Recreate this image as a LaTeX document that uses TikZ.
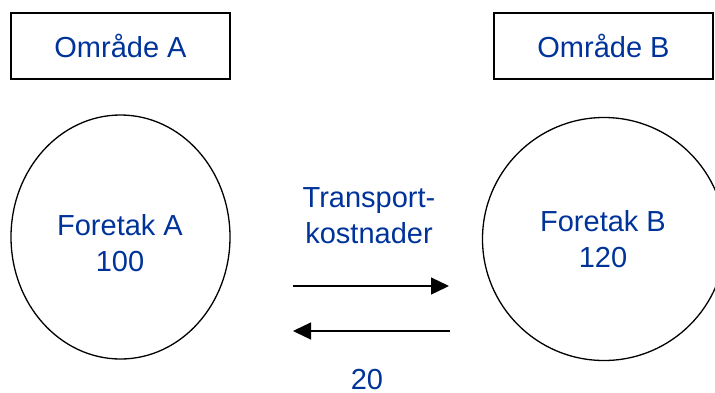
\documentclass[tikz,border=0pt]{standalone}
\usepackage{fontspec}
\setmainfont{Liberation Sans}
\usetikzlibrary{shapes.geometric,arrows.meta}
\definecolor{labelblue}{RGB}{0,51,153}
\tikzset{
  txt/.style={text=labelblue, font=\fontsize{29}{36}\selectfont, align=center, inner sep=0pt},
  areabox/.style={draw=black, line width=2pt, minimum width=219pt, minimum height=66pt, inner sep=0pt},
  firm/.style={draw=black, line width=1.3pt, ellipse, inner sep=0pt},
  flow/.style={draw=black, line width=1.3pt, -{Triangle[length=18pt,width=17pt]}}
}
\begin{document}
\begin{tikzpicture}[x=1pt,y=-1pt]
  \useasboundingbox (0,0) rectangle (715,392);
  \clip (0,0) rectangle (715,392);
  % area boxes
  \node[areabox] (areaA) at (120.5,46) {};
  \node[txt] at (areaA) {Område A};
  \node[areabox] (areaB) at (603.5,46) {};
  \node[txt] at (areaB) {Område B};
  % firms
  \node[firm, minimum width=219pt, minimum height=244pt] (firmA) at (120.5,237) {};
  \node[txt] (firmAtext) at (120,243) {Foretak A\\100};
  \node[firm, minimum width=243pt, minimum height=243pt] (firmB) at (604,239) {};
  \node[txt] (firmBtext) at (603,239) {Foretak B\\120};
  % transport costs
  \node[txt] (cost) at (369,216) {Transport-\\kostnader};
  \node[txt] (amount) at (367,380) {20};
  \coordinate (r1) at (293,286);
  \coordinate (r2) at (449,286);
  \coordinate (l1) at (450,331);
  \coordinate (l2) at (293,331);
  \draw[flow] (r1) -- (r2);
  \draw[flow] (l1) -- (l2);
\end{tikzpicture}
\end{document}
